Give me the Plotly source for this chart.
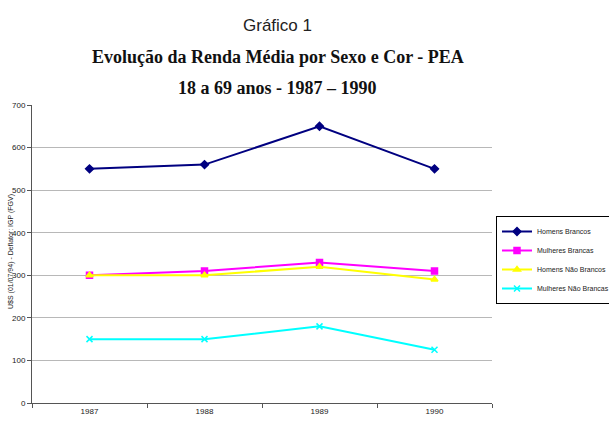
import plotly.graph_objects as go

years = ["1987", "1988", "1989", "1990"]
homens_brancos = [550, 560, 650, 550]
mulheres_brancas = [300, 310, 330, 310]
homens_nao_brancos = [300, 300, 320, 290]
mulheres_nao_brancas = [150, 150, 180, 125]

series = [
    ("Homens Brancos", homens_brancos, "#000080", "diamond"),
    ("Mulheres Brancas", mulheres_brancas, "#FF00FF", "square"),
    ("Homens Não Brancos", homens_nao_brancos, "#FFFF00", "triangle-up"),
    ("Mulheres Não Brancas", mulheres_nao_brancas, "#00FFFF", "x-thin"),
]

fig = go.Figure()
for name, vals, color, sym in series:
    fig.add_trace(go.Scatter(
        x=years, y=vals, name=name, mode="lines+markers",
        line=dict(color=color, width=2),
        marker=dict(symbol=sym, size=6, color=color,
                    line=dict(color=color, width=1.5)),
    ))

W, H = 609, 421
L, R, T, B = 32, 117, 105, 18

pw = W - L - R
ph = H - T - B

def px(xp):
    return (xp - L) / pw

def py(yp):
    return (H - B - yp) / ph

fig.update_layout(
    width=W, height=H,
    margin=dict(l=L, r=R, t=T, b=B, autoexpand=False),
    paper_bgcolor="white", plot_bgcolor="white",
    font=dict(family="Arial, Liberation Sans, sans-serif", size=8, color="#222"),
    showlegend=True,
    legend=dict(x=px(496), y=py(260), xanchor="left", yanchor="middle",
                bordercolor="black", borderwidth=1, bgcolor="white",
                font=dict(size=7, color="#222"), tracegroupgap=0,
                itemwidth=30),
    xaxis=dict(type="category", range=[-0.5, 3.5], showgrid=False,
               showline=True, linecolor="#555", linewidth=1,
               ticks="outside", tickson="boundaries", ticklen=4,
               tickcolor="#555", tickfont=dict(size=8)),
    yaxis=dict(range=[0, 700], dtick=100, showgrid=True, gridcolor="#b8b8b8",
               gridwidth=1, showline=True, linecolor="#555", linewidth=1,
               ticks="outside", ticklen=4, tickcolor="#555",
               tickfont=dict(size=8), zeroline=False),
)

fig.add_annotation(text="Gráfico 1", xref="paper", yref="paper",
                   x=px(277), y=py(14), showarrow=False,
                   font=dict(family="Arial, Liberation Sans, sans-serif", size=17, color="#222"))
fig.add_annotation(text="<b>Evolução da Renda Média por Sexo e Cor - PEA</b>",
                   xref="paper", yref="paper", x=px(278), y=py(45), showarrow=False,
                   font=dict(family="Times New Roman, Liberation Serif, serif", size=18, color="#111"))
fig.add_annotation(text="<b>18 a 69 anos - 1987 – 1990</b>",
                   xref="paper", yref="paper", x=px(277), y=py(76), showarrow=False,
                   font=dict(family="Times New Roman, Liberation Serif, serif", size=18, color="#111"))
fig.add_annotation(text="U$S (01/07/94) - Deflator: IGP (FGV)", textangle=-90,
                   xref="paper", yref="paper", x=px(5), y=py(252), showarrow=False,
                   font=dict(size=7, color="#222"))

fig.write_html("out.html")
